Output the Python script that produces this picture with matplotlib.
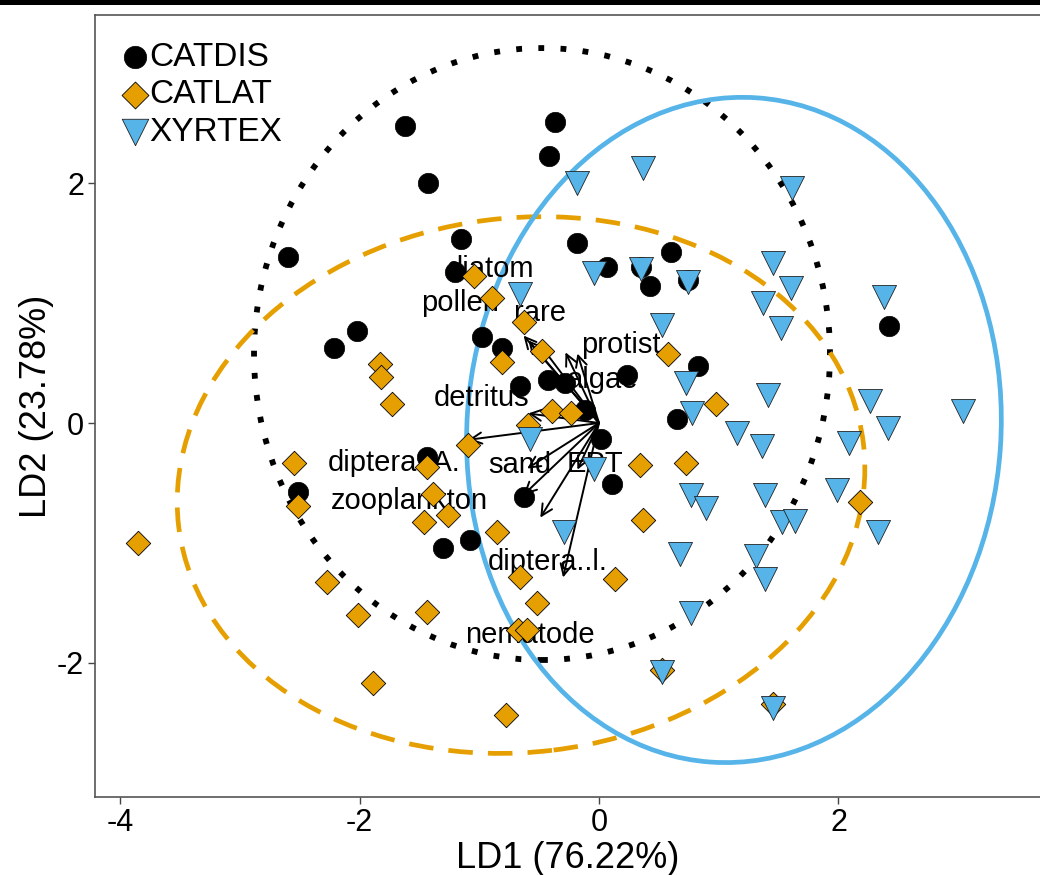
import matplotlib
matplotlib.use("Agg")
import matplotlib.pyplot as plt
from matplotlib.patches import Ellipse, Rectangle

plt.rcParams['font.family'] = ['Liberation Sans', 'DejaVu Sans']

# ---- data (LD1, LD2 scores) ----
catdis_x = [-1.62, -1.43, -0.37, -0.42, -2.60, -1.15, -0.18, 0.07, 0.35, 0.60, 0.43, 0.74,
            2.42, 0.83, 0.23, 0.65, -1.20, -2.02, -2.21, -0.98, -0.81, -0.66, -0.43, -0.28,
            -0.12, 0.02, -1.44, -2.51, -0.63, 0.11, -1.30, -1.08]
catdis_y = [2.48, 2.00, 2.51, 2.23, 1.39, 1.54, 1.50, 1.30, 1.30, 1.43, 1.14, 1.19,
            0.81, 0.48, 0.40, 0.03, 1.26, 0.77, 0.63, 0.72, 0.63, 0.31, 0.36, 0.33,
            0.11, -0.13, -0.28, -0.58, -0.62, -0.51, -1.04, -0.98]

catlat_x = [-1.04, -0.89, -0.63, -0.48, -0.81, -1.83, -1.82, -1.73, -0.39, -0.23, -0.59, -1.09,
            -2.55, -1.44, 0.34, -2.51, -1.39, -1.46, -1.26, -0.85, -3.85, -2.27, -2.01, -1.44,
            -0.66, -0.52, -0.68, -0.60, -1.89, -0.78, 0.37, 0.13, 0.58, 0.98, 0.73, 2.18,
            0.53, 1.45]
catlat_y = [1.23, 1.04, 0.84, 0.60, 0.51, 0.49, 0.38, 0.16, 0.10, 0.08, -0.02, -0.18,
            -0.33, -0.37, -0.35, -0.69, -0.59, -0.83, -0.77, -0.91, -1.00, -1.33, -1.60, -1.58,
            -1.29, -1.50, -1.73, -1.73, -2.17, -2.44, -0.81, -1.30, 0.58, 0.16, -0.33, -0.66,
            -2.06, -2.35]

xyrtex_x = [-0.18, 0.37, 1.61, -0.04, 0.35, 0.74, 1.45, 1.60, 1.37, 1.52, 0.53, 2.38,
            0.73, 1.41, 0.78, 2.26, 2.41, 3.04, 1.15, 1.36, 2.09, -0.66, -0.58, -0.04,
            0.77, 0.89, 1.39, 1.99, 1.53, 1.64, 2.33, -0.29, 0.68, 1.31, 1.39, 0.77,
            0.53, 1.45]
xyrtex_y = [2.00, 2.13, 1.96, 1.25, 1.29, 1.18, 1.34, 1.13, 1.00, 0.79, 0.82, 1.05,
            0.33, 0.23, 0.08, 0.18, -0.04, 0.10, -0.08, -0.19, -0.17, 1.08, -0.13, -0.38,
            -0.60, -0.71, -0.60, -0.56, -0.83, -0.82, -0.91, -0.91, -1.09, -1.11, -1.30, -1.59,
            -2.08, -2.38]

groups = ['CATDIS', 'CATLAT', 'XYRTEX']

# ---- variable loadings (arrows) ----
var_names = ['diatom', 'pollen', 'rare', 'protist', 'algae', 'detritus',
             'diptera..A.', 'sand', 'zooplankton', 'EPT', 'nematode', 'diptera..l.']
var_x = [-0.63, -0.59, -0.49, -0.18, -0.28, -0.59, -1.09, -0.60, -0.63, -0.18, -0.49, -0.30]
var_y = [0.73, 0.69, 0.65, 0.58, 0.59, 0.08, -0.14, -0.38, -0.60, -0.39, -0.79, -1.29]
lab_x = [-0.91, -1.16, -0.49, 0.18, 0.03, -0.98, -1.71, -0.66, -1.58, -0.03, -0.58, -0.43]
lab_y = [1.29, 1.00, 0.92, 0.65, 0.36, 0.21, -0.33, -0.35, -0.65, -0.34, -1.77, -1.16]

# ---- confidence ellipses: centre x, centre y, width, height, angle ----
ell_cx = [-0.476, -0.651, 1.127]
ell_cy = [0.576, -0.518, -0.058]
ell_w = [4.81, 5.76, 4.46]
ell_h = [5.11, 4.46, 5.56]
ell_ang = [0, 7, -4]

# ---- figure ----
W, H = 1040, 875
fig = plt.figure(figsize=(W / 100, H / 100), dpi=100)
ax = fig.add_axes([95 / W, 1 - 797 / H, (1040 - 95) / W, (797 - 15) / H])
ax.set_xlim(-4.209, 3.683)
ax.set_ylim(-3.123, 3.407)

# black band on top of image
fig.patches.append(Rectangle((0, 1 - 4.5 / H), 1, 4.5 / H, transform=fig.transFigure,
                             facecolor='black', edgecolor='none'))

orange = '#E69F00'
blue = '#56B4E9'
styles = [dict(edgecolor='black', linestyle=(0, (1, 2.8)), linewidth=4.2, capstyle='butt'),
          dict(edgecolor=orange, linestyle=(0, (5.2, 3.2)), linewidth=3.4, capstyle='butt'),
          dict(edgecolor=blue, linestyle='-', linewidth=3.4)]
for i in range(3):
    e = Ellipse((ell_cx[i], ell_cy[i]), ell_w[i], ell_h[i], angle=ell_ang[i],
                facecolor='none', zorder=1, **styles[i])
    ax.add_patch(e)

for i, name in enumerate(var_names):
    ax.text(lab_x[i], lab_y[i], name, fontsize=21, ha='center', va='center',
            color='black', zorder=2)
    ax.annotate('', xy=(var_x[i], var_y[i]), xytext=(0, 0),
                arrowprops=dict(arrowstyle='->,head_length=0.8,head_width=0.4',
                                color='black', lw=1.4, shrinkA=0, shrinkB=0),
                zorder=3)

ax.scatter(catdis_x, catdis_y, s=215, marker='o', facecolor='black', edgecolor='black',
           linewidth=0.5, zorder=4, label=groups[0])
ax.scatter(catlat_x, catlat_y, s=155, marker='D', facecolor=orange, edgecolor='black',
           linewidth=0.6, zorder=5, label=groups[1])
ax.scatter(xyrtex_x, xyrtex_y, s=300, marker='v', facecolor=blue, edgecolor='#222222',
           linewidth=0.6, zorder=6, label=groups[2])

leg = ax.legend(loc='upper left', bbox_to_anchor=(0.021, 0.966), frameon=False,
                fontsize=24, handletextpad=-0.17, labelspacing=0.2, borderaxespad=0,
                borderpad=0, handlelength=1.2, scatterpoints=1, markerscale=1.1)
leg.set_zorder(10)

ax.set_xticks([-4, -2, 0, 2])
ax.set_yticks([-2, 0, 2])
ax.set_xticklabels(['-4', '-2', '0', '2'])
ax.set_yticklabels(['-2', '0', '2'])
ax.tick_params(axis='both', labelsize=22, length=5, width=1.0, color='#444444',
               labelcolor='black', pad=3)
for side in ['left', 'top', 'bottom']:
    ax.spines[side].set_color('#555555')
    ax.spines[side].set_linewidth(1.2)
ax.spines['right'].set_visible(False)

ax.set_xlabel('LD1 (76.22%)', fontsize=26, labelpad=2)
ax.set_ylabel('LD2 (23.78%)', fontsize=26, labelpad=2)

fig.savefig('out.png', dpi=100)
